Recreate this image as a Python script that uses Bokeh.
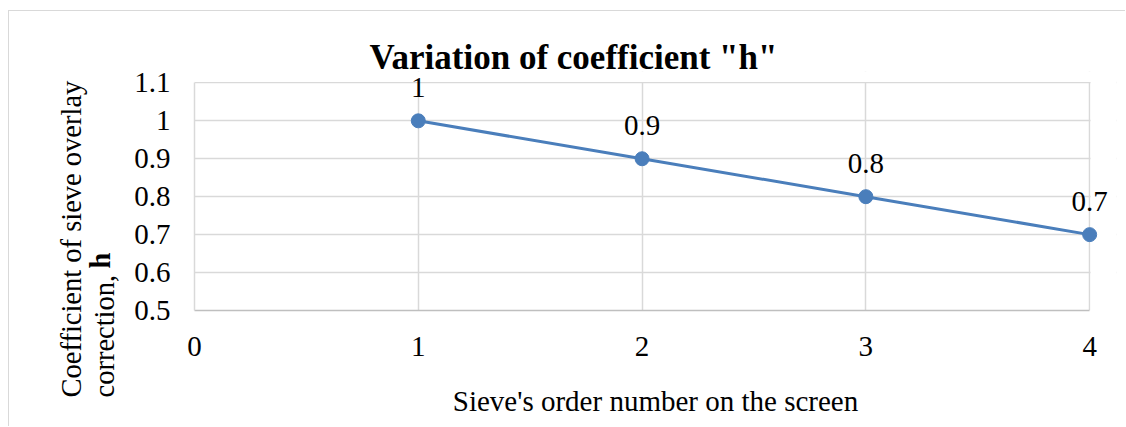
from bokeh.plotting import figure
from bokeh.models import (ColumnDataSource, LabelSet, FixedTicker, Range1d,
                          Title, BoxAnnotation)
from bokeh.embed import file_html
from bokeh.resources import INLINE

# ---- data ----
sieve_order = [1, 2, 3, 4]
coef_h = [1.0, 0.9, 0.8, 0.7]
coef_labels = ["1", "0.9", "0.8", "0.7"]
x_ticks = [0, 1, 2, 3, 4]
y_ticks = [0.5, 0.6, 0.7, 0.8, 0.9, 1.0, 1.1]
title_text = 'Variation of coefficient "h"'
x_label = "Sieve's order number on the screen"
y_label_line1 = "Coefficient of sieve overlay"
y_label_line2 = "correction, "
y_label_bold = "h"

FONT = "Liberation Serif"
BLUE = "#4A7EBB"
GRID = "#D9D9D9"

W, H = 1117, 416
p = figure(width=W, height=H, output_backend="svg", toolbar_location=None,
           x_range=Range1d(0, 4.12), y_range=Range1d(0.5, 1.13),
           min_border_left=185, min_border_right=10,
           min_border_top=60, min_border_bottom=117)
p.margin = (10, 0, 0, 8)
p.styles = {"border-left": "1px solid #D9D9D9", "border-top": "1px solid #D9D9D9"}

p.title.text = title_text
p.title.text_font = FONT
p.title.text_font_size = "35px"
p.title.text_font_style = "bold"
p.title.text_color = "black"
p.title.align = "left"
p.title.offset = 175
p.title.standoff = -10

p.outline_line_color = None
p.background_fill_color = "white"
p.border_fill_color = "white"

# grids
p.xgrid.ticker = FixedTicker(ticks=x_ticks)
p.ygrid.ticker = FixedTicker(ticks=y_ticks)
for g in (p.xgrid, p.ygrid):
    g.grid_line_color = GRID
    g.grid_line_width = 1.5

# white covers so that the grid stops at x=4 and y=1.1 (frame is padded for labels)
p.add_layout(BoxAnnotation(left=4.004, fill_color="white", fill_alpha=1,
                           line_alpha=0, level="underlay"))
p.add_layout(BoxAnnotation(bottom=1.1025, fill_color="white", fill_alpha=1,
                           line_alpha=0, level="underlay"))

# axes
p.xaxis.ticker = FixedTicker(ticks=x_ticks)
p.yaxis.ticker = FixedTicker(ticks=y_ticks)
p.xaxis.bounds = (0, 4)
p.yaxis.bounds = (0.5, 1.1)
p.yaxis.major_label_overrides = {1.0: "1", 1: "1"}
for ax in (p.xaxis, p.yaxis):
    ax.major_tick_in = 0
    ax.major_tick_out = 0
    ax.minor_tick_in = 0
    ax.minor_tick_out = 0
    ax.major_label_text_font = FONT
    ax.major_label_text_font_size = "29px"
    ax.major_label_text_color = "black"
p.xaxis.axis_line_color = "#BFBFBF"
p.xaxis.axis_line_width = 1.5
p.yaxis.axis_line_color = GRID
p.yaxis.axis_line_width = 1.5
p.xaxis.major_label_standoff = 26
p.yaxis.major_label_standoff = 24

p.xaxis.axis_label = x_label
p.xaxis.axis_label_text_font = FONT
p.xaxis.axis_label_text_font_size = "29px"
p.xaxis.axis_label_text_font_style = "normal"
p.xaxis.axis_label_text_color = "black"
p.xaxis.axis_label_standoff = 26

src = ColumnDataSource(dict(x=sieve_order, y=coef_h, lab=coef_labels))
p.line("x", "y", source=src, line_color=BLUE, line_width=3)
p.scatter("x", "y", source=src, size=14, fill_color=BLUE, line_color=BLUE)

p.add_layout(LabelSet(x="x", y="y", text="lab", source=src, y_offset=24,
                      text_align="center", text_baseline="alphabetic",
                      text_font=FONT, text_font_size="29px", text_color="black"))

# two-line y label as side titles
def side_title(text, offset, standoff, style="normal"):
    return Title(text=text, align="left", offset=offset, standoff=standoff,
                 text_font=FONT, text_font_size="28.5px", text_font_style=style,
                 text_color="black")

p.add_layout(side_title(y_label_line2, -87, 24), "left")
p.add_layout(side_title(y_label_line1, -87, -24), "left")
p.add_layout(side_title(y_label_bold, 42, -100, "bold"), "left")

open("out.html", "w").write(file_html(p, INLINE))
